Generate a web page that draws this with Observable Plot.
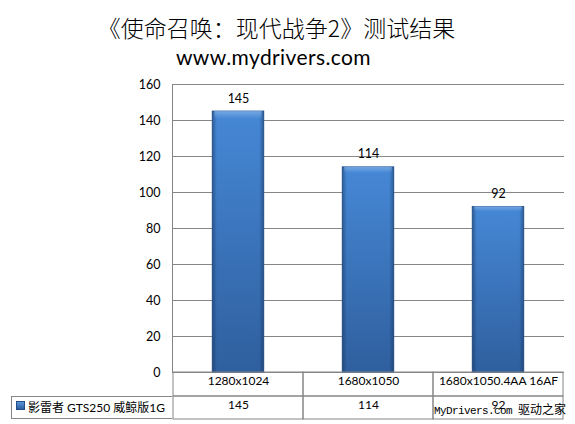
<!DOCTYPE html>
<html>
<head>
<meta charset="utf-8">
<script src="https://cdn.jsdelivr.net/npm/d3@7"></script>
<script src="https://cdn.jsdelivr.net/npm/@observablehq/plot@0.6"></script>
<style>
  body { margin: 0; background: #fff; }
  #chart { position: relative; width: 575px; height: 424px; font-family: Lato, "Noto Sans CJK SC", sans-serif; color: #000; }
  .title { height: 44px; line-height: 44px; padding-top: 5px; box-sizing: border-box; text-align: center; padding-right: 22px;
           font-family: "Noto Sans CJK SC", sans-serif; font-size: 23px; font-weight: 300; white-space: nowrap; }
  .subtitle { height: 26px; line-height: 26px; text-align: center; padding-right: 28px; box-sizing: border-box;
              font-family: Lato, sans-serif; font-size: 21px; letter-spacing: 0.4px; white-space: nowrap; }
  #plot svg { display: block; }
  .legend { position: absolute; left: 11px; top: 396px; width: 161px; height: 23px; box-sizing: border-box;
            border: 1px solid #868686; border-right: none; font-size: 12px; line-height: 21px; white-space: nowrap; }
  .legend .swatch { position: absolute; left: 4px; top: 4px; width: 7px; height: 7px;
                    background: linear-gradient(#5a94dc, #2d5f9f); border: 1px solid #244f86; }
  .legend .name { position: absolute; left: 16px; top: 0; }
  .mark { position: absolute; left: 434px; top: 402px; font-family: "Liberation Mono", "Noto Sans CJK SC", monospace;
          font-size: 11px; letter-spacing: -0.6px; line-height: 14px; white-space: nowrap; color: #000; }
  .mark .cjk { font-family: "Noto Sans CJK SC", sans-serif; font-size: 12px; letter-spacing: 0; }
</style>
</head>
<body>
<div id="chart">
  <div class="title">《使命召唤：现代战争2》测试结果</div>
  <div class="subtitle">www.mydrivers.com</div>
  <div id="plot"></div>
  <div class="legend"><span class="swatch"></span><span class="name"></span></div>
  <div class="mark">MyDrivers.com <span class="cjk">驱动之家</span></div>
</div>
<script>
// Benchmark settings (columns of the data table)
const categories = ["1280x1024", "1680x1050", "1680x1050.4AA 16AF"];
// Frame rates for the tested card
const fps = [145, 114, 92];
// Series name shown in the data table
const seriesName = "影雷者 GTS250 威鲸版1G";
// Value-axis ticks
const yTicks = [0, 20, 40, 60, 80, 100, 120, 140, 160];

const rows = categories.map((c, i) => ({category: c, value: fps[i]}));

const W = 575, H = 354;
const marginLeft = 172, marginRight = 11, marginTop = 14, marginBottom = 52;
const step = (W - marginLeft - marginRight) / categories.length;
const barInset = step * 0.3;
const gridColor = "#868686";
const rowH = 24, tableH = 47;

const plot = Plot.plot({
  width: W,
  height: H,
  marginLeft, marginRight, marginTop, marginBottom,
  style: {fontFamily: 'Lato, "Noto Sans CJK SC", sans-serif', fontSize: "12px", color: "#000", background: "transparent", overflow: "visible"},
  x: {domain: categories, padding: 0, axis: null},
  y: {domain: [0, 160], axis: null},
  marks: [
    Plot.gridY(yTicks, {stroke: gridColor, strokeOpacity: 1}),
    Plot.axisY(yTicks, {tickSize: 0, tickPadding: 12, fontSize: 12.5, label: null}),
    Plot.frame({anchor: "left", stroke: gridColor}),
    // bars: vertical colour ramp, darker side edges, lighter top rim
    Plot.barY(rows, {x: "category", y: "value", insetLeft: barInset, insetRight: barInset, fill: "url(#barFill)", stroke: "#2b5a97", strokeWidth: 0.8}),
    Plot.barY(rows, {x: "category", y: "value", insetLeft: barInset, insetRight: barInset, fill: "url(#barEdge)"}),
    Plot.barY(rows, {x: "category", y: "value", insetLeft: barInset + 2, insetRight: barInset + 2, fill: "url(#barTop)"}),
    Plot.text(rows, {x: "category", y: "value", text: d => String(d.value), dy: -13, fontSize: 12.5}),
    // data table below the plot
    Plot.barY(categories, {x: d => d, y1: 0, y2: 0, insetBottom: -rowH, fill: "none", stroke: gridColor}),
    Plot.barY(categories, {x: d => d, y1: 0, y2: 0, insetTop: rowH, insetBottom: -tableH, fill: "none", stroke: gridColor}),
    Plot.text(categories, {x: d => d, frameAnchor: "bottom", dy: 12, fontSize: 12}),
    Plot.text(rows, {x: "category", text: d => String(d.value), frameAnchor: "bottom", dy: 36, fontSize: 12})
  ]
});

d3.select(plot).insert("defs", ":first-child").html(`
  <linearGradient id="barFill" x1="0" y1="0" x2="0" y2="1">
    <stop offset="0" stop-color="#4688d6"/>
    <stop offset="1" stop-color="#2f5f9e"/>
  </linearGradient>
  <linearGradient id="barEdge" x1="0" y1="0" x2="1" y2="0">
    <stop offset="0" stop-color="#10284d" stop-opacity="0.45"/>
    <stop offset="0.09" stop-color="#10284d" stop-opacity="0"/>
    <stop offset="0.91" stop-color="#10284d" stop-opacity="0"/>
    <stop offset="1" stop-color="#10284d" stop-opacity="0.45"/>
  </linearGradient>
  <linearGradient id="barTop" x1="0" y1="0" x2="0" y2="0.03">
    <stop offset="0" stop-color="#9cc2ee" stop-opacity="0.55"/>
    <stop offset="1" stop-color="#9cc2ee" stop-opacity="0"/>
  </linearGradient>
`);

document.getElementById("plot").appendChild(plot);
document.querySelector(".legend .name").textContent = seriesName;
</script>
</body>
</html>
